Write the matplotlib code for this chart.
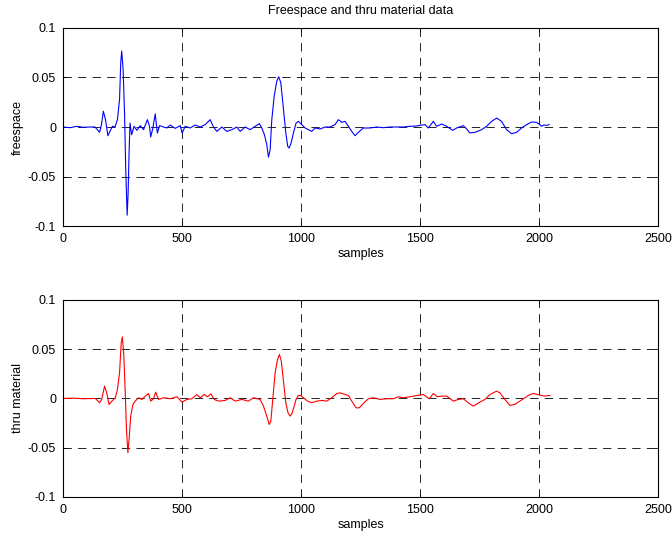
import matplotlib
matplotlib.use("Agg")
import matplotlib.pyplot as plt

plt.rcParams['font.family'] = ['Liberation Sans', 'DejaVu Sans']
plt.rcParams['lines.scale_dashes'] = False

# Freespace (top, blue): sample index, amplitude
free_x = [0, 29, 57, 85, 113, 134, 153, 161, 169, 178, 188, 197, 207, 218, 228, 237, 242, 246, 252, 258, 263, 269, 273, 277, 281, 288, 298, 310, 324, 338, 346, 354, 363, 368, 377, 387, 396, 405, 422, 436, 450, 471, 492, 500, 513, 534, 555, 576, 597, 618, 632, 646, 667, 688, 709, 730, 744, 765, 786, 807, 825, 835, 846, 856, 863, 870, 877, 887, 898, 906, 915, 926, 936, 944, 950, 958, 968, 979, 989, 1003, 1017, 1031, 1045, 1059, 1080, 1101, 1122, 1143, 1157, 1171, 1185, 1199, 1213, 1227, 1241, 1262, 1290, 1318, 1346, 1374, 1402, 1430, 1458, 1486, 1500, 1521, 1535, 1556, 1570, 1591, 1612, 1637, 1654, 1682, 1696, 1710, 1731, 1759, 1780, 1801, 1822, 1843, 1864, 1885, 1906, 1927, 1948, 1969, 1990, 2004, 2011, 2021, 2032, 2043]
free_y = [0.0, -0.0007, 0.0007, -0.0003, 0.0, 0.0, -0.0054, 0.0024, 0.0159, 0.0074, -0.0088, -0.0044, 0.0007, 0.0, 0.0074, 0.0277, 0.065, 0.0767, 0.058, 0.0142, -0.043, -0.089, -0.067, -0.026, 0.004, -0.0078, 0.0007, -0.0034, 0.0014, -0.0027, 0.0024, 0.0074, 0.0007, -0.0101, -0.001, 0.0132, -0.0061, 0.0014, 0.0, -0.001, 0.002, -0.0014, 0.0014, -0.0061, 0.0007, -0.001, 0.002, 0.0, 0.0024, 0.0074, 0.0, -0.0044, 0.0, -0.0044, -0.0027, 0.0, -0.0044, 0.0, -0.0027, 0.0007, 0.0034, -0.001, -0.0078, -0.018, -0.0304, -0.023, 0.0074, 0.031, 0.0463, 0.0507, 0.0446, 0.0176, -0.006, -0.0196, -0.0213, -0.0162, -0.006, 0.004, 0.0057, 0.0024, -0.001, -0.0027, -0.0044, -0.001, -0.002, 0.0, 0.0, 0.0024, 0.0074, 0.0047, 0.0057, 0.0007, -0.0044, -0.0088, -0.0054, -0.001, -0.001, 0.0, -0.0007, 0.0, 0.0, 0.0, 0.0007, 0.001, 0.0017, 0.0024, -0.001, 0.0057, 0.0007, 0.003, 0.0007, -0.0034, -0.001, 0.0014, -0.002, -0.006, -0.0054, -0.0027, 0.0007, 0.0057, 0.009, 0.0057, -0.0027, -0.0068, -0.0054, -0.001, 0.0024, 0.005, 0.0047, 0.0024, 0.0007, 0.002, 0.0017, 0.0024]

# Thru material (bottom, red)
thru_x = [0, 43, 85, 135, 153, 162, 174, 183, 193, 205, 219, 228, 237, 244, 249, 255, 261, 266, 272, 277, 284, 293, 303, 317, 331, 345, 359, 368, 380, 389, 401, 422, 450, 478, 500, 520, 541, 562, 576, 593, 607, 621, 635, 653, 681, 702, 723, 751, 779, 800, 828, 842, 856, 866, 873, 881, 891, 901, 909, 917, 926, 936, 945, 954, 962, 971, 979, 989, 999, 1010, 1027, 1045, 1066, 1087, 1108, 1129, 1150, 1164, 1185, 1199, 1213, 1231, 1245, 1262, 1283, 1304, 1332, 1360, 1388, 1409, 1430, 1458, 1486, 1514, 1539, 1556, 1573, 1591, 1612, 1640, 1661, 1682, 1703, 1724, 1752, 1773, 1794, 1822, 1836, 1857, 1878, 1899, 1920, 1941, 1962, 1976, 1997, 2011, 2025, 2039, 2046]
thru_y = [0.0, 0.0003, -0.0003, 0.0, -0.0044, -0.001, 0.0125, 0.0057, -0.0061, -0.0027, 0.0007, 0.009, 0.026, 0.0564, 0.0625, 0.043, 0.0057, -0.031, -0.055, -0.0416, -0.0179, -0.006, -0.0027, 0.0007, -0.001, 0.0024, 0.005, -0.0027, -0.0003, 0.0064, -0.001, 0.0007, -0.0003, 0.0017, -0.0037, -0.001, -0.0003, 0.004, 0.0007, 0.004, 0.0017, 0.0047, -0.001, -0.0027, -0.002, 0.0007, -0.0027, -0.001, -0.0027, 0.0007, -0.001, -0.0078, -0.018, -0.0264, -0.023, -0.001, 0.026, 0.0395, 0.0446, 0.0379, 0.0176, -0.0044, -0.0145, -0.0179, -0.0152, -0.0078, -0.001, 0.003, 0.003, 0.0007, -0.0027, -0.0044, -0.0027, -0.002, -0.0027, 0.0007, 0.005, 0.0057, 0.004, 0.003, -0.0027, -0.0095, -0.0095, -0.005, -0.0003, 0.0007, -0.001, -0.0003, -0.0003, 0.0017, 0.0007, 0.0017, 0.003, 0.004, -0.0003, 0.005, 0.0017, 0.0024, 0.0024, -0.0027, -0.001, -0.0003, -0.0044, -0.0078, -0.0037, -0.001, 0.004, 0.0074, 0.0057, -0.001, -0.0071, -0.006, -0.0027, 0.0007, 0.004, 0.005, 0.004, 0.003, 0.0024, 0.003, 0.003]

x_ticks = [0, 500, 1000, 1500, 2000, 2500]
y_ticks = [-0.1, -0.05, 0, 0.05, 0.1]
y_tick_labels = ['-0.1', '-0.05', '0', '0.05', '0.1']

fig = plt.figure(figsize=(6.72, 5.37), dpi=100)
ax1 = fig.add_axes([0.094, 0.579, 0.885, 0.369])
ax2 = fig.add_axes([0.094, 0.0745, 0.885, 0.367])

def style(ax, ylabel):
    ax.set_xlim(0, 2500)
    ax.set_ylim(-0.1, 0.1)
    ax.set_xticks(x_ticks)
    ax.set_xticklabels([str(t) for t in x_ticks])
    ax.set_yticks(y_ticks)
    ax.set_yticklabels(y_tick_labels)
    ax.tick_params(direction='in', top=True, right=True, labelsize=9, length=3, width=0.6, pad=5)
    ax.grid(True, color='black', linestyle=(0, (6, 4.5)), linewidth=0.6)
    for s in ax.spines.values():
        s.set_linewidth(0.8)
    ax.set_xlabel('samples', fontsize=9, labelpad=2)
    ax.set_ylabel(ylabel, fontsize=9, labelpad=3)

ax1.plot(free_x, free_y, color='#0000ff', linewidth=0.8)
style(ax1, 'freespace')
ax1.set_title('Freespace and thru material data', fontsize=9, pad=10)

ax2.plot(thru_x, thru_y, color='#ff0000', linewidth=0.8)
style(ax2, 'thru material')

fig.savefig('out.png', dpi=100)
